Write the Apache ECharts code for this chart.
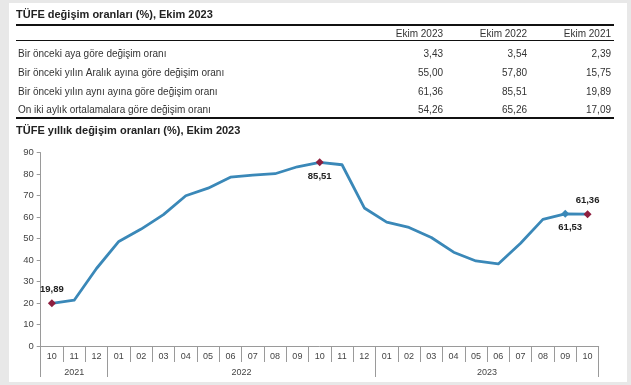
<!DOCTYPE html>
<html><head><meta charset="utf-8">
<script src="https://cdn.jsdelivr.net/npm/echarts@6/dist/echarts.min.js"></script>
<style>
html,body{margin:0;padding:0;background:#e8e8e8;}
#panel{position:absolute;left:9px;top:3px;width:618px;height:379px;background:#fff;}
#chart{position:absolute;left:0;top:0;width:631px;height:385px;}
</style></head><body>
<div id="panel"></div><div id="chart"></div>
<script>
const tableTitle = 'TÜFE değişim oranları (%), Ekim 2023';
const chartTitle = 'TÜFE yıllık değişim oranları (%), Ekim 2023';
const tableHeaders = ['Ekim 2023', 'Ekim 2022', 'Ekim 2021'];
const rowLabels = [
  'Bir önceki aya göre değişim oranı',
  'Bir önceki yılın Aralık ayına göre değişim oranı',
  'Bir önceki yılın aynı ayına göre değişim oranı',
  'On iki aylık ortalamalara göre değişim oranı'
];
const col2023 = ['3,43', '55,00', '61,36', '54,26'];
const col2022 = ['3,54', '57,80', '85,51', '65,26'];
const col2021 = ['2,39', '15,75', '19,89', '17,09'];

const months = ['10','11','12','01','02','03','04','05','06','07','08','09','10','11','12','01','02','03','04','05','06','07','08','09','10'];
const years = ['2021', '2022', '2023'];
const yearSpans = [3, 12, 10];
const yoyValues = [19.89, 21.31, 36.08, 48.69, 54.44, 61.14, 69.97, 73.50, 78.62, 79.60, 80.21, 83.45, 85.51, 84.39, 64.27, 57.68, 55.18, 50.51, 43.68, 39.59, 38.21, 47.83, 58.94, 61.53, 61.36];
const yMin = 0, yMax = 90, yStep = 10;

// highlighted points: index -> style
const redPoints = [0, 12, 24];
const bluePoints = [23];
const labelPos = {0: 'top', 12: 'bottom', 24: 'top', 23: 'bottom'};

const FONT = 'Arial, "Liberation Sans", sans-serif';
const LINE_COLOR = '#3a88b8';
const RED = '#8e1f3f';

const yearBounds = [0];
yearSpans.forEach(s => yearBounds.push(yearBounds[yearBounds.length - 1] + s));
const yearCenters = years.map((y, i) => (yearBounds[i] + yearBounds[i + 1]) / 2);

const fmt = v => v.toFixed(2).replace('.', ',');

const seriesData = yoyValues.map((v, i) => {
  const item = {value: v};
  const isRed = redPoints.includes(i), isBlue = bluePoints.includes(i);
  if (isRed || isBlue) {
    item.symbol = 'diamond';
    item.symbolSize = 8;
    item.itemStyle = {color: isRed ? RED : LINE_COLOR};
    item.label = {
      show: true, position: labelPos[i], distance: 5,
      offset: i === 23 ? [5, 0] : [0, 0],
      formatter: p => fmt(p.value),
      fontFamily: FONT, fontSize: 9.5, fontWeight: 'bold', color: '#222'
    };
  } else {
    item.symbol = 'none';
  }
  return item;
});

// table graphics
const graphics = [];
graphics.push({type: 'text', x: 16, y: 15, style: {text: tableTitle, font: 'bold 11px ' + FONT, fill: '#222', textVerticalAlign: 'middle'}});
graphics.push({type: 'line', shape: {x1: 16, y1: 25, x2: 614, y2: 25}, style: {stroke: '#111', lineWidth: 2}});
graphics.push({type: 'line', shape: {x1: 16, y1: 40.5, x2: 614, y2: 40.5}, style: {stroke: '#111', lineWidth: 1}});
graphics.push({type: 'line', shape: {x1: 16, y1: 118, x2: 614, y2: 118}, style: {stroke: '#111', lineWidth: 2}});
const colRight = [443, 527, 611];
tableHeaders.forEach((h, i) => graphics.push({type: 'text', x: colRight[i], y: 34, style: {text: h, font: '10px ' + FONT, fill: '#333', textAlign: 'right', textVerticalAlign: 'middle'}}));
const rowY = [54, 73, 92, 110];
const cols = [col2023, col2022, col2021];
rowLabels.forEach((r, i) => {
  graphics.push({type: 'text', x: 18, y: rowY[i], style: {text: r, font: '10px ' + FONT, fill: '#333', textVerticalAlign: 'middle'}});
  cols.forEach((c, j) => graphics.push({type: 'text', x: colRight[j], y: rowY[i], style: {text: c[i], font: '10px ' + FONT, fill: '#333', textAlign: 'right', textVerticalAlign: 'middle'}}));
});
graphics.push({type: 'text', x: 16, y: 131, style: {text: chartTitle, font: 'bold 11px ' + FONT, fill: '#222', textVerticalAlign: 'middle'}});

const chart = echarts.init(document.getElementById('chart'), null, {renderer: 'canvas'});
chart.setOption({
  animation: false,
  backgroundColor: 'transparent',
  graphic: graphics,
  grid: {left: 40.7, right: 32.3, top: 152.7, bottom: 39},
  xAxis: [{
    type: 'category', data: months, boundaryGap: true, position: 'bottom',
    axisLine: {show: true, lineStyle: {color: '#9a9a9a', width: 1}},
    axisTick: {show: true, interval: 0, length: 16, lineStyle: {color: '#9a9a9a'}},
    axisLabel: {interval: 0, margin: 6, fontFamily: FONT, fontSize: 9, color: '#444'},
    splitLine: {show: false}
  }, {
    type: 'value', min: 0, max: yearBounds[yearBounds.length - 1], position: 'bottom',
    axisLine: {show: false},
    axisTick: {show: true, length: 31, customValues: yearBounds, lineStyle: {color: '#9a9a9a'}},
    axisLabel: {show: true, margin: 22, customValues: yearCenters,
      formatter: v => { const k = yearCenters.indexOf(v); return k >= 0 ? years[k] : ''; },
      fontFamily: FONT, fontSize: 9, color: '#444'},
    splitLine: {show: false}
  }],
  yAxis: {
    type: 'value', min: yMin, max: yMax, interval: yStep,
    axisLine: {show: true, lineStyle: {color: '#9a9a9a'}},
    axisTick: {show: true, length: 4, lineStyle: {color: '#9a9a9a'}},
    axisLabel: {margin: 7, fontFamily: FONT, fontSize: 9.5, color: '#444'},
    splitLine: {show: false}
  },
  series: [{
    type: 'line', xAxisIndex: 0, data: seriesData,
    lineStyle: {color: LINE_COLOR, width: 2.8, cap: 'round', join: 'round'},
    itemStyle: {color: LINE_COLOR},
    z: 3
  }]
});
</script></body></html>
